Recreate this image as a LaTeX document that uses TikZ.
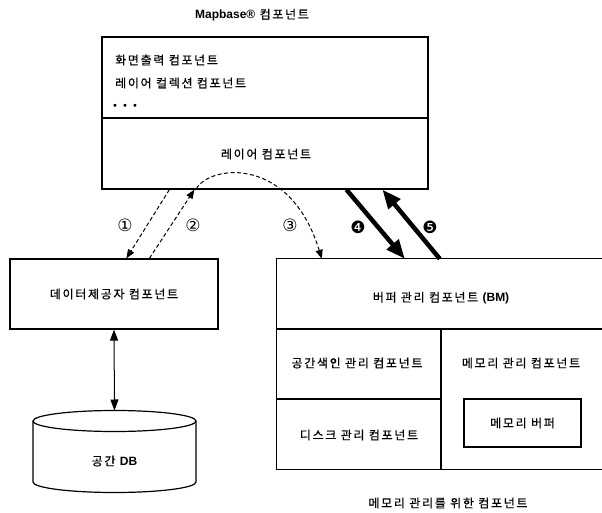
\documentclass[tikz,border=0pt]{standalone}
\usepackage{fontspec}
\setmainfont{Noto Sans CJK KR}[LetterSpace=14, FakeBold=0.6]
\newfontfamily\latinbf{Liberation Sans}
\newfontfamily\symfont{DejaVu Sans}
\usetikzlibrary{arrows.meta}

\tikzset{
  box/.style={draw, line width=1.2pt, inner sep=0pt, font=\fontsize{12}{14}\selectfont},
  lbl/.style={font=\fontsize{12}{14}\selectfont, inner sep=0pt},
  sep/.style={line width=1.2pt},
  dasharrow/.style={line width=1pt, dash pattern=on 4pt off 2.5pt,
    -{Triangle[length=9pt,width=7pt]}},
  bigarrow/.style={line width=4.5pt, -{Triangle[length=19pt,width=15pt]}},
  num/.style={font=\symfont\fontsize{17}{19}\selectfont, inner sep=0pt},
}

\begin{document}
\begin{tikzpicture}[x=1pt, y=-1pt]
\useasboundingbox (0,0) rectangle (602,513);

% Mapbase component
\node[lbl] (title) at (252,15) {{\latinbf\bfseries Mapbase®} 컴포넌트};
\node[box, minimum width=326pt, minimum height=152pt] (mb) at (265,113) {};
\draw[sep] (102,118) -- (428,118);
\node[lbl, anchor=west] (scr) at (115,60) {화면출력 컴포넌트};
\node[lbl, anchor=west] (coll) at (115,83) {레이어 컬렉션 컴포넌트};
\node[anchor=west, inner sep=0pt, font=\symfont\fontsize{10}{12}\selectfont]
  (dots) at (112,107) {•\hspace{4pt}•\hspace{4pt}•};
\node[lbl] (layer) at (266,154) {레이어 컴포넌트};

% data provider and spatial DB
\node[box, minimum width=208pt, minimum height=70pt] (dp) at (114,294) {데이터제공자 컴포넌트};
\draw[line width=1.2pt] (33,421) -- (33,482)
  arc[start angle=180, end angle=0, x radius=81.5, y radius=10.5] -- (196,421);
\draw[line width=1.2pt] (114.5,421) ellipse[x radius=81.5, y radius=10.5];
\coordinate (dbtop) at (114.5,410.5);
\node[lbl] (db) at (114.5,461) {공간 {\latinbf\bfseries DB}};
\draw[line width=1pt, {Triangle[length=11pt,width=8pt]}-{Triangle[length=11pt,width=8pt]}]
  (dp.south) -- (dbtop);

% buffer manager (right edge runs past the page)
\node[minimum width=329pt, minimum height=210pt, inner sep=0pt] (bm) at (441.5,364) {};
\draw[sep] (bm.north east) -- (bm.north west) -- (bm.south west) -- (bm.south east);
\node[lbl] (bmt) at (441,298) {버퍼 관리 컴포넌트 {\latinbf\bfseries (BM)}};
\draw[sep] (277,329) -- (606,329);
\draw[sep] (441,329) -- (441,469);
\draw[sep] (277,399) -- (441,399);
\node[lbl] (sidx) at (357,363) {공간색인 관리 컴포넌트};
\node[lbl] (disk) at (359,435) {디스크 관리 컴포넌트};
\node[lbl] (mem) at (521,363) {메모리 관리 컴포넌트};
\node[box, minimum width=117pt, minimum height=48pt] (buf) at (522.5,423) {메모리 버퍼};
\node[lbl] (cap) at (448,503) {메모리 관리를 위한 컴포넌트};

% interactions
\draw[dasharrow] ([xshift=68pt]mb.south west) -- ([xshift=117pt]dp.north west);
\draw[dasharrow] ([xshift=140pt]dp.north west) -- ([xshift=93pt]mb.south west);
\draw[dasharrow] ([xshift=95pt,yshift=1pt]mb.south west)
  .. controls (210,165) and (290,155) .. ([xshift=45pt]bm.north west);
\draw[bigarrow] ([xshift=245pt]mb.south west) -- ([xshift=128pt]bm.north west);
\draw[bigarrow] ([xshift=163pt]bm.north west) -- ([xshift=281pt]mb.south west);

\node[num] (n1) at (125,225) {①};
\node[num] (n2) at (193,225) {②};
\node[num] (n3) at (290,225) {③};
\node[num] (n4) at (358,227) {❹};
\node[num] (n5) at (430,227) {❺};
\end{tikzpicture}
\end{document}
